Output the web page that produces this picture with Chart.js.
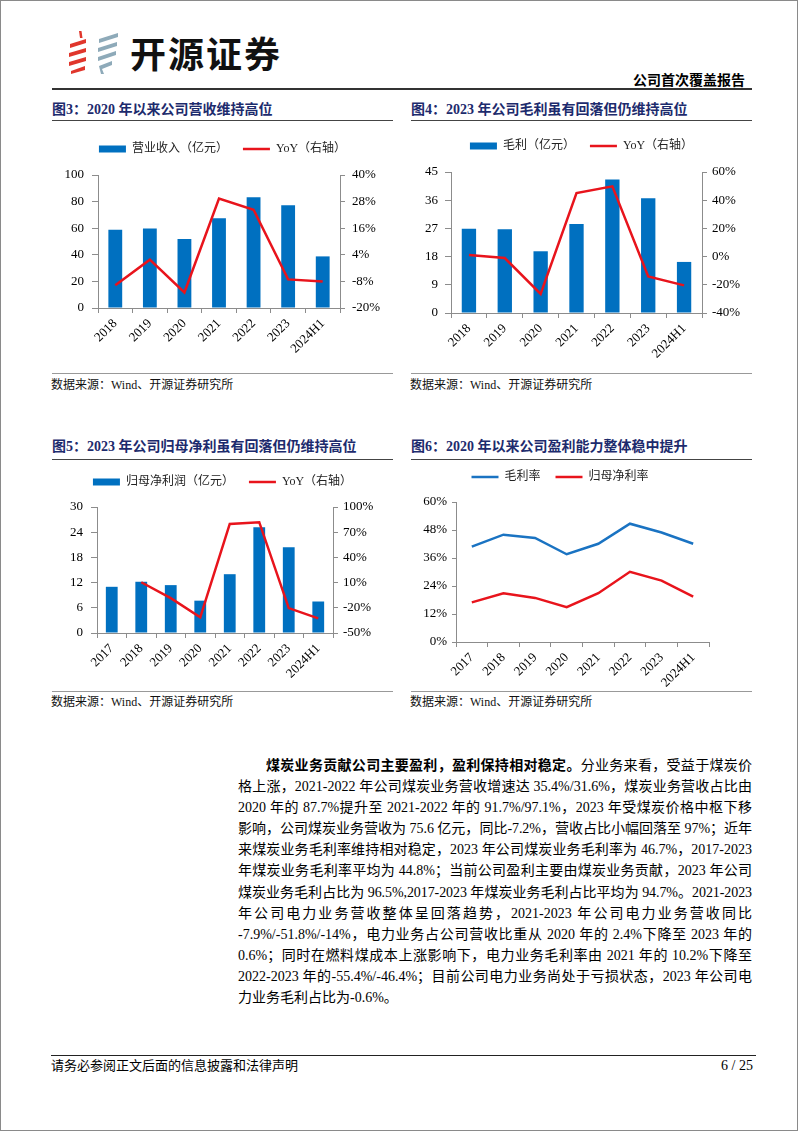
<!DOCTYPE html>
<html lang="zh-CN">
<head>
<meta charset="utf-8">
<title>公司首次覆盖报告</title>
<script src="https://cdn.jsdelivr.net/npm/chart.js@4.4.1/dist/chart.umd.min.js"></script>
<style>
  html, body { margin: 0; padding: 0; background: #fff; }
  .page { position: relative; width: 802px; height: 1133px; overflow: hidden;
    font-family: "Liberation Serif", "Noto Sans CJK SC", serif; color: #000; }
  .frame { position: absolute; left: 0; top: 0; width: 796px; height: 1129px; border: 1.5px solid #8a8a8a; }
  .abs { position: absolute; white-space: nowrap; }
  .rule { position: absolute; height: 0; }
  .brand { left: 130px; top: 30px; height: 44px; line-height: 44px; font-family: "Noto Sans CJK SC", sans-serif;
    font-weight: 700; font-size: 36px; letter-spacing: 2px; color: #111; }
  .kind { right: 57px; top: 72px; height: 18px; line-height: 18px; font-size: 14px; font-weight: 700; }
  .ftitle { height: 20px; line-height: 20px; font-size: 14px; font-weight: 700; color: #1d2b6d; }
  .src { height: 16px; line-height: 16px; font-size: 12px; color: #111; }
  canvas { position: absolute; }
  .ln { position: absolute; left: 238px; width: 514px; height: 21px; line-height: 21px; font-size: 14px;
    white-space: nowrap; text-align: justify; text-align-last: justify; }
  .foot { height: 18px; line-height: 18px; font-size: 13px; }
</style>
</head>
<body>
<div class="page">
  <div class="frame"></div>

  <!-- 页眉 -->
  <svg class="abs" style="left:66px;top:28px" width="56" height="48" viewBox="0 0 56 48">
    <polygon points="13,3 15.5,3 16.5,10 14,10" fill="#e0362c"/>
    <polygon points="4,16 20,11 20,15 4,20" fill="#e0362c"/>
    <polygon points="3,25 20,20 20,24 3,29" fill="#e0362c"/>
    <polygon points="3,34 20,29 20,33 3,38" fill="#e0362c"/>
    <polygon points="5,43 19,38 19,42 5,46" fill="#e0362c"/>
    <polygon points="33,11 52,5 52,9 33,15" fill="#8eaab9"/>
    <polygon points="32,20 51,14 51,18 32,24" fill="#8eaab9"/>
    <polygon points="32,29 50,23 50,27 32,33" fill="#8eaab9"/>
    <polygon points="33,38 46,33 46,37 36,41 38,46 35,46" fill="#8eaab9"/>
  </svg>
  <div class="abs brand">开源证券</div>
  <div class="abs kind">公司首次覆盖报告</div>
  <div class="rule" style="left:52px;top:88px;width:700px;border-top:2px solid #333"></div>

  <!-- 图表标题 -->
  <div class="abs ftitle" style="left:52px;top:100px">图3：2020 年以来公司营收维持高位</div>
  <div class="abs ftitle" style="left:411px;top:100px">图4：2023 年公司毛利虽有回落但仍维持高位</div>
  <div class="rule" style="left:52px;top:120px;width:341px;border-top:1.5px solid #444"></div>
  <div class="rule" style="left:411px;top:120px;width:341px;border-top:1.5px solid #444"></div>

  <canvas id="revenueChart" width="341" height="232" style="left:52px;top:128px"></canvas>
  <canvas id="grossChart" width="341" height="235" style="left:411px;top:125px"></canvas>

  <div class="rule" style="left:52px;top:373px;width:341px;border-top:1px solid #999"></div>
  <div class="rule" style="left:411px;top:373px;width:341px;border-top:1px solid #999"></div>
  <div class="abs src" style="left:51px;top:377px">数据来源：Wind、开源证券研究所</div>
  <div class="abs src" style="left:410px;top:377px">数据来源：Wind、开源证券研究所</div>

  <div class="abs ftitle" style="left:52px;top:437px">图5：2023 年公司归母净利虽有回落但仍维持高位</div>
  <div class="abs ftitle" style="left:411px;top:437px">图6：2020 年以来公司盈利能力整体稳中提升</div>
  <div class="rule" style="left:52px;top:459px;width:341px;border-top:1.5px solid #444"></div>
  <div class="rule" style="left:411px;top:459px;width:341px;border-top:1.5px solid #444"></div>

  <canvas id="netChart" width="341" height="224" style="left:52px;top:461px"></canvas>
  <canvas id="marginChart" width="321" height="234" style="left:411px;top:456px"></canvas>

  <div class="rule" style="left:52px;top:691px;width:341px;border-top:1px solid #999"></div>
  <div class="rule" style="left:411px;top:691px;width:341px;border-top:1px solid #999"></div>
  <div class="abs src" style="left:51px;top:694px">数据来源：Wind、开源证券研究所</div>
  <div class="abs src" style="left:410px;top:694px">数据来源：Wind、开源证券研究所</div>

  <!-- 正文 -->
  <div class="ln" style="top:755px;padding-left:28px;width:486px"><b>煤炭业务贡献公司主要盈利，盈利保持相对稳定。</b>分业务来看，受益于煤炭价</div>
  <div class="ln" style="top:776px">格上涨，2021-2022 年公司煤炭业务营收增速达 35.4%/31.6%，煤炭业务营收占比由</div>
  <div class="ln" style="top:797px">2020 年的 87.7%提升至 2021-2022 年的 91.7%/97.1%，2023 年受煤炭价格中枢下移</div>
  <div class="ln" style="top:818px">影响，公司煤炭业务营收为 75.6 亿元，同比-7.2%，营收占比小幅回落至 97%；近年</div>
  <div class="ln" style="top:839px">来煤炭业务毛利率维持相对稳定，2023 年公司煤炭业务毛利率为 46.7%，2017-2023</div>
  <div class="ln" style="top:860px">年煤炭业务毛利率平均为 44.8%；当前公司盈利主要由煤炭业务贡献，2023 年公司</div>
  <div class="ln" style="top:882px">煤炭业务毛利占比为 96.5%,2017-2023 年煤炭业务毛利占比平均为 94.7%。2021-2023</div>
  <div class="ln" style="top:903px">年公司电力业务营收整体呈回落趋势，2021-2023 年公司电力业务营收同比</div>
  <div class="ln" style="top:924px">-7.9%/-51.8%/-14%，电力业务占公司营收比重从 2020 年的 2.4%下降至 2023 年的</div>
  <div class="ln" style="top:945px">0.6%；同时在燃料煤成本上涨影响下，电力业务毛利率由 2021 年的 10.2%下降至</div>
  <div class="ln" style="top:966px">2022-2023 年的-55.4%/-46.4%；目前公司电力业务尚处于亏损状态，2023 年公司电</div>
  <div class="ln" style="top:987px;text-align-last:left">力业务毛利占比为-0.6%。</div>

  <!-- 页脚 -->
  <div class="rule" style="left:51px;top:1055px;width:705px;border-top:1.5px solid #222"></div>
  <div class="abs foot" style="left:51px;top:1057px">请务必参阅正文后面的信息披露和法律声明</div>
  <div class="abs foot" style="right:49px;top:1057px;font-size:14px">6 / 25</div>
</div>

<script>
// 图3 营业收入
const years7 = ['2018', '2019', '2020', '2021', '2022', '2023', '2024H1']
const revenue = [58.8, 59.8, 51.8, 67.5, 83.3, 77.3, 38.8]
const revenueYoy = [-9.7, 1.8, -13.0, 29.4, 24.3, -7.1, -8.0]

// 图4 毛利
const grossProfit = [26.9, 26.7, 19.7, 28.4, 42.6, 36.6, 16.3]
const grossProfitYoy = [1.1, -1.0, -26.5, 45.1, 49.8, -14.0, -20.4]

// 图5 归母净利润
const years8 = ['2017', '2018', '2019', '2020', '2021', '2022', '2023', '2024H1']
const netProfit = [11.0, 12.2, 11.4, 7.7, 14.0, 25.2, 20.4, 7.5]
const netProfitYoy = [null, 10.4, -8.5, -31.4, 79.9, 81.9, -20.4, -32.6]

// 图6 毛利率 / 归母净利率
const grossMargin = [40.9, 46.0, 44.6, 37.6, 42.1, 50.7, 46.9, 42.1]
const netMargin = [17.0, 20.9, 18.9, 14.9, 20.9, 30.1, 26.3, 19.4]

const BLUE = '#0070c0'
const RED = '#e8141c'
const AXIS = '#8c8c8c'
const FONT = { family: '"Liberation Serif", "Noto Sans CJK SC", serif', size: 13 }

// 固定图例高度，让绘图区落在指定位置
function legendHeight(h) {
  return {
    id: 'legendHeight',
    beforeInit(chart) {
      const fit = chart.legend.fit
      chart.legend.fit = function () {
        fit.call(this)
        this.height = h
      }
    }
  }
}

function legendItems(chart) {
  return chart.data.datasets.map((ds, i) => {
    const isBar = (ds.type || chart.config.type) === 'bar'
    return {
      text: ds.label,
      datasetIndex: i,
      fillStyle: isBar ? ds.backgroundColor : 'transparent',
      strokeStyle: ds.borderColor,
      lineWidth: isBar ? 0 : 2.5,
      pointStyle: isBar ? 'rect' : 'line',
      fontColor: '#222',
      hidden: false
    }
  })
}

function legendOptions() {
  return {
    position: 'top',
    labels: {
      usePointStyle: true,
      pointStyleWidth: 27,
      boxWidth: 27,
      boxHeight: 7,
      padding: 15,
      font: { family: FONT.family, size: 12 },
      generateLabels: legendItems
    }
  }
}

function xAxis(h) {
  return {
    offset: true,
    grid: { offset: true, drawOnChartArea: false, drawTicks: true, tickLength: 5, color: AXIS },
    border: { display: true, color: AXIS },
    ticks: { font: FONT, color: '#000', minRotation: 45, maxRotation: 45, autoSkip: false, padding: 3 },
    afterFit: s => { s.height = h }
  }
}

function yAxis(position, width, min, max, step, pct, tick, pad) {
  return {
    position: position,
    min: min,
    max: max,
    grid: { drawOnChartArea: false, drawTicks: true, tickLength: tick, color: AXIS },
    border: { display: true, color: AXIS },
    ticks: {
      stepSize: step,
      font: FONT,
      color: '#000',
      padding: pad,
      callback: v => pct ? v + '%' : v
    },
    afterFit: s => { s.width = width }
  }
}

function comboChart(id, labels, barLabel, bars, yoy, opt) {
  return new Chart(document.getElementById(id), {
    type: 'bar',
    data: {
      labels: labels,
      datasets: [
        {
          type: 'bar',
          label: barLabel,
          data: bars,
          backgroundColor: BLUE,
          borderColor: BLUE,
          borderWidth: 0,
          barPercentage: 0.4,
          categoryPercentage: 1,
          yAxisID: 'y',
          order: 1
        },
        {
          type: 'line',
          label: 'YoY（右轴）',
          data: yoy,
          borderColor: RED,
          backgroundColor: RED,
          borderWidth: 2.5,
          pointRadius: 0,
          tension: 0,
          yAxisID: 'y1',
          order: 0
        }
      ]
    },
    options: {
      responsive: false,
      animation: false,
      events: [],
      layout: { padding: 0 },
      plugins: {
        legend: legendOptions(),
        tooltip: { enabled: false }
      },
      scales: {
        x: xAxis(opt.xh),
        y: yAxis('left', opt.lw, 0, opt.max, opt.step, false, 6, opt.lp),
        y1: yAxis('right', opt.rw, opt.rmin, opt.rmax, opt.rstep, true, 5, opt.rp)
      }
    },
    plugins: [legendHeight(opt.lh)]
  })
}

comboChart('revenueChart', years7, '营业收入（亿元）', revenue, revenueYoy,
  { xh: 52, lh: 47, lw: 46, rw: 53, max: 100, step: 20, rmin: -20, rmax: 40, rstep: 12, lp: 8, rp: 7 })

comboChart('grossChart', years7, '毛利（亿元）', grossProfit, grossProfitYoy,
  { xh: 47, lh: 47, lw: 40, rw: 50, max: 45, step: 9, rmin: -40, rmax: 60, rstep: 20, lp: 7, rp: 5 })

comboChart('netChart', years8, '归母净利润（亿元）', netProfit, netProfitYoy,
  { xh: 52, lh: 46, lw: 45, rw: 60, max: 30, step: 6, rmin: -50, rmax: 100, rstep: 30, lp: 8, rp: 5 })

new Chart(document.getElementById('marginChart'), {
  type: 'line',
  data: {
    labels: years8,
    datasets: [
      { label: '毛利率', data: grossMargin, borderColor: '#1a73c2', backgroundColor: '#1a73c2',
        borderWidth: 2.5, pointRadius: 0, tension: 0 },
      { label: '归母净利率', data: netMargin, borderColor: RED, backgroundColor: RED,
        borderWidth: 2.5, pointRadius: 0, tension: 0 }
    ]
  },
  options: {
    responsive: false,
    animation: false,
    events: [],
    layout: { padding: { right: 23 } },
    plugins: {
      legend: legendOptions(),
      tooltip: { enabled: false }
    },
    scales: {
      x: xAxis(48),
      y: yAxis('left', 45, 0, 60, 12, true, 4, 5)
    }
  },
  plugins: [legendHeight(46)]
})

// 正文逐行两端对齐，放不下的行稍微收紧字距
document.querySelectorAll('.ln').forEach(el => {
  const avail = el.clientWidth - parseFloat(getComputedStyle(el).paddingLeft)
  const range = document.createRange()
  range.selectNodeContents(el)
  const natural = range.getBoundingClientRect().width
  if (natural > avail) {
    const n = el.textContent.length
    el.style.letterSpacing = ((avail - natural) / n - 0.05) + 'px'
  }
})
</script>
</body>
</html>
